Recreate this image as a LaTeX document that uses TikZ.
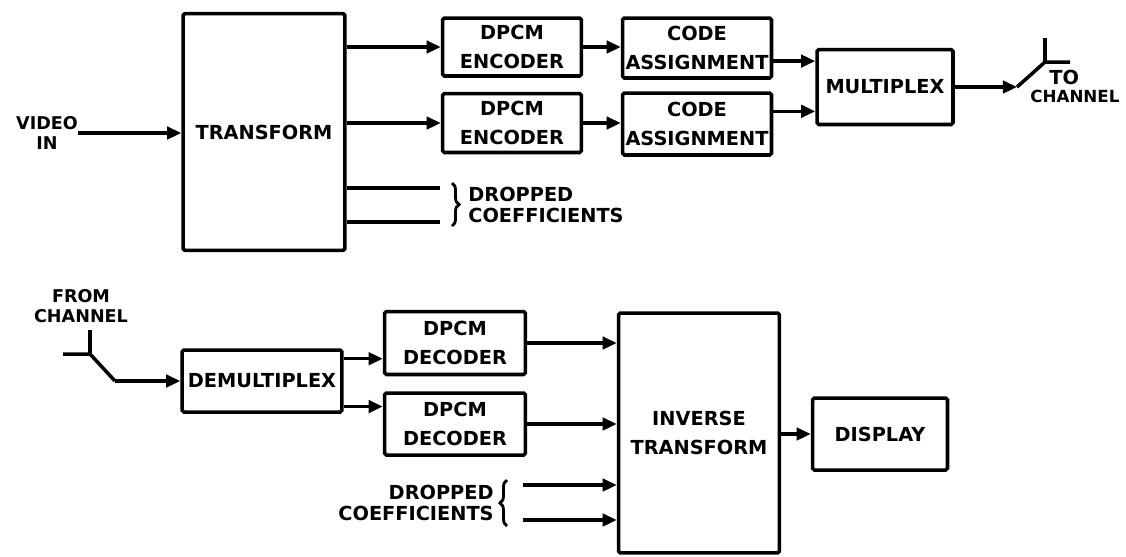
\documentclass[tikz,border=0pt]{standalone}
\usepackage{fontspec}
\setmainfont{DejaVu Sans}
\usetikzlibrary{arrows.meta, positioning, calc, decorations.pathreplacing}

\newcommand{\lblfont}{\fontsize{11}{16}\selectfont\bfseries}
\newcommand{\tightfont}{\fontsize{11}{12}\selectfont\bfseries}
\newcommand{\sidefont}{\fontsize{10}{11.5}\selectfont\bfseries}

\tikzset{
  blk/.style={draw, line width=2pt, rounded corners=1pt, align=center,
              inner sep=0pt, font=\lblfont},
  lbl/.style={align=center, inner sep=0pt, font=\tightfont},
  sidelbl/.style={align=center, inner sep=0pt, font=\sidefont},
  sig/.style={line width=2pt, -{Triangle[length=8pt,width=7pt]}},
  wire/.style={line width=2pt},
  curly/.style={line width=1.6pt, decorate, decoration={brace, amplitude=4pt}},
}

\begin{document}
\begin{tikzpicture}[x=0.02cm, y=-0.02cm]
\useasboundingbox (0,0) rectangle (1126,556);

%% Encoder chain
\node[blk, minimum width=3.24cm, minimum height=4.74cm] (transform) at (264,132) {TRANSFORM};
\node[blk, minimum width=2.78cm, minimum height=1.16cm] (enc1) at (512,47) {DPCM\\ENCODER};
\node[blk, minimum width=2.78cm, minimum height=1.18cm] (enc2) at (512,123) {DPCM\\ENCODER};
\node[blk, minimum width=2.98cm, minimum height=1.20cm] (code1) at (697,48) {CODE\\ASSIGNMENT};
\node[blk, minimum width=2.98cm, minimum height=1.24cm] (code2) at (697,124) {CODE\\ASSIGNMENT};
\node[blk, minimum width=2.72cm, minimum height=1.50cm] (mux) at (885,87) {MULTIPLEX};

\node[sidelbl] (vidin) at (47,133) {VIDEO\\IN};
\draw[sig] (vidin.east) -- (vidin.east -| transform.west);

\draw[sig] (transform.east |- enc1) -- (enc1.west);
\draw[sig] (transform.east |- enc2) -- (enc2.west);
\coordinate (drop1) at (440,188);
\coordinate (drop2) at (440,222);
\draw[wire] (transform.east |- drop1) -- (drop1);
\draw[wire] (transform.east |- drop2) -- (drop2);
\draw[curly] (452,183) -- (452,226);
\node[lbl, anchor=west, align=left] (droptop) at (468,205) {DROPPED\\COEFFICIENTS};

\draw[sig] (enc1.east) -- (enc1.east -| code1.west);
\draw[sig] (enc2.east) -- (enc2.east -| code2.west);
\coordinate (mxin1) at ($(mux.north west)!0.17!(mux.south west)$);
\coordinate (mxin2) at ($(mux.north west)!0.81!(mux.south west)$);
\draw[sig] (code1.east |- mxin1) -- (mxin1);
\draw[sig] (code2.east |- mxin2) -- (mxin2);

%% switch to channel
\coordinate (swout) at (1017,87);
\coordinate (swout-pivot) at (1045,62);
\coordinate (swout-up) at (1045,38);
\coordinate (swout-right) at (1070,62);
\draw[sig] (mux.east) -- (swout);
\draw[wire] (swout) -- (swout-pivot) -- (swout-right);
\draw[wire] (swout-up) -- (swout-pivot);
\node[lbl, anchor=west] (tolbl) at (1049,77) {TO};
\node[lbl, anchor=west, font=\fontsize{9.5}{11}\selectfont\bfseries] (chanlbl) at (1030,96) {CHANNEL};

%% Decoder chain
\node[sidelbl] (fromch) at (81,306) {FROM\\CHANNEL};
\node[blk, minimum width=3.20cm, minimum height=1.24cm] (demux) at (262,381) {DEMULTIPLEX};
\node[blk, minimum width=2.82cm, minimum height=1.26cm] (dec1) at (455,343) {DPCM\\DECODER};
\node[blk, minimum width=2.82cm, minimum height=1.24cm] (dec2) at (455,424) {DPCM\\DECODER};
\node[blk, minimum width=3.22cm, minimum height=4.80cm] (inv) at (699,433) {INVERSE\\TRANSFORM};
\node[blk, minimum width=2.70cm, minimum height=1.44cm] (disp) at (880,434) {DISPLAY};

%% switch from channel
\coordinate (swin-up) at (90,330);
\coordinate (swin-pivot) at (90,354);
\coordinate (swin-left) at (63,354);
\coordinate (swin) at (115,381);
\draw[wire] (swin-up) -- (swin-pivot);
\draw[wire] (swin-left) -- (swin-pivot) -- (swin);
\draw[sig] (swin) -- (swin -| demux.west);

\coordinate (dmout1) at ($(demux.north east)!0.16!(demux.south east)$);
\coordinate (dmout2) at ($(demux.north east)!0.89!(demux.south east)$);
\draw[sig] (dmout1) -- (dmout1 -| dec1.west);
\draw[sig] (dmout2) -- (dmout2 -| dec2.west);
\draw[sig] (dec1.east) -- (dec1.east -| inv.west);
\draw[sig] (dec2.east) -- (dec2.east -| inv.west);

\coordinate (drop3) at (523,485);
\coordinate (drop4) at (523,520);
\draw[sig] (drop3) -- (drop3 -| inv.west);
\draw[sig] (drop4) -- (drop4 -| inv.west);
\draw[curly] (507,526) -- (507,480);
\node[lbl, anchor=east, align=right] (dropbot) at (494,503) {DROPPED\\COEFFICIENTS};

\draw[sig] (inv.east |- disp.west) -- (disp.west);
\end{tikzpicture}
\end{document}
